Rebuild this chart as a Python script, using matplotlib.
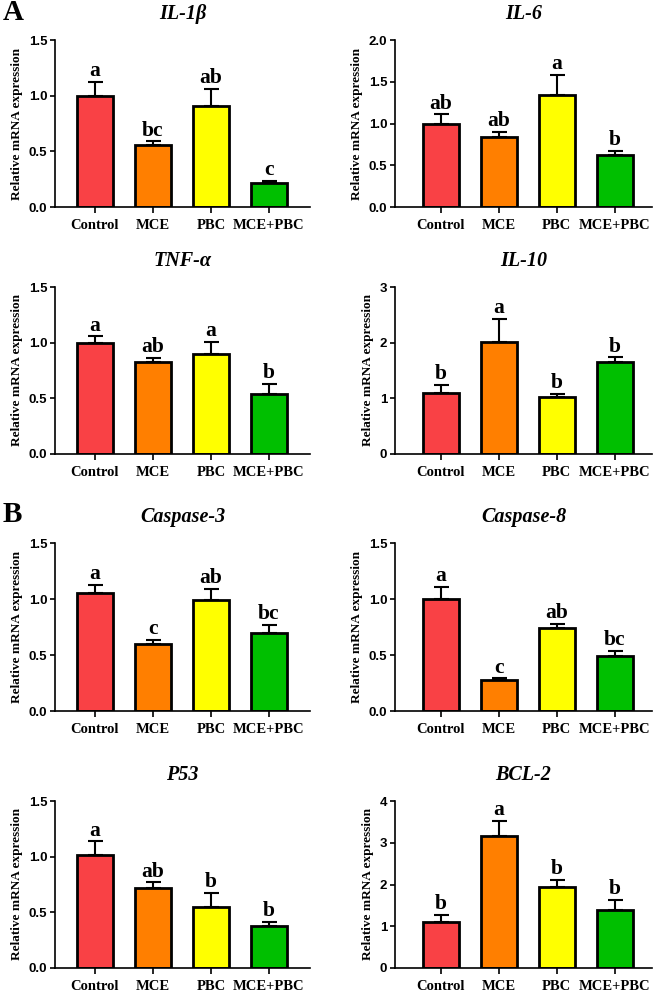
import matplotlib
matplotlib.use("Agg")
import matplotlib.pyplot as plt

groups = ["Control", "MCE", "PBC", "MCE+PBC"]
bar_colors = ["#F94145", "#FF7F00", "#FFFF00", "#00BF00"]

# gene panels: title, mean, sem (upper), letters, ymax, ystep
genes = ["IL-1β", "IL-6", "TNF-α", "IL-10", "Caspase-3", "Caspase-8", "P53", "BCL-2"]

il1b_mean = [1.00, 0.553, 0.908, 0.215]
il1b_sem = [0.126, 0.036, 0.156, 0.021]
il1b_sig = ["a", "bc", "ab", "c"]

il6_mean = [0.996, 0.833, 1.347, 0.625]
il6_sem = [0.114, 0.063, 0.233, 0.048]
il6_sig = ["ab", "ab", "a", "b"]

tnf_mean = [0.996, 0.825, 0.90, 0.537]
tnf_sem = [0.06, 0.036, 0.105, 0.093]
tnf_sig = ["a", "ab", "a", "b"]

il10_mean = [1.092, 2.016, 1.032, 1.656]
il10_sem = [0.15, 0.414, 0.048, 0.078]
il10_sig = ["b", "a", "b", "b"]

casp3_mean = [1.05, 0.60, 0.993, 0.696]
casp3_sem = [0.075, 0.033, 0.096, 0.075]
casp3_sig = ["a", "c", "ab", "bc"]

casp8_mean = [1.0, 0.277, 0.74, 0.495]
casp8_sem = [0.107, 0.015, 0.04, 0.045]
casp8_sig = ["a", "c", "ab", "bc"]

p53_mean = [1.016, 0.723, 0.547, 0.379]
p53_sem = [0.122, 0.045, 0.125, 0.036]
p53_sig = ["a", "ab", "b", "b"]

bcl2_mean = [1.108, 3.163, 1.952, 1.386]
bcl2_sem = [0.159, 0.367, 0.158, 0.247]
bcl2_sig = ["b", "a", "b", "b"]

means = [il1b_mean, il6_mean, tnf_mean, il10_mean, casp3_mean, casp8_mean, p53_mean, bcl2_mean]
sems = [il1b_sem, il6_sem, tnf_sem, il10_sem, casp3_sem, casp8_sem, p53_sem, bcl2_sem]
sigs = [il1b_sig, il6_sig, tnf_sig, il10_sig, casp3_sig, casp8_sig, p53_sig, bcl2_sig]
ymaxs = [1.5, 2.0, 1.5, 3, 1.5, 1.5, 1.5, 4]
ysteps = [0.5, 0.5, 0.5, 1, 0.5, 0.5, 0.5, 1]

W, H = 655, 991
fig = plt.figure(figsize=(W / 100, H / 100), dpi=100)

serif = "Liberation Serif"
sans = "Liberation Sans"

# pixel layout (left, right) per column, (top, bottom) per row
cols = [(55, 310, -0.69, 3.71), (395, 652, -0.79, 3.64)]
rows = [(40, 207), (287, 454), (543, 711), (801, 968)]

for i, gene in enumerate(genes):
    r, c = divmod(i, 2)
    x0, x1, xl, xr = cols[c]
    yt, yb = rows[r]
    ax = fig.add_axes([x0 / W, 1 - yb / H, (x1 - x0) / W, (yb - yt) / H])
    x = list(range(len(groups)))
    ax.bar(x, means[i], width=0.62, color=bar_colors, edgecolor="black",
           linewidth=2.0, zorder=2)
    ax.errorbar(x, means[i], yerr=[[0] * 4, sems[i]], fmt="none", ecolor="black",
                elinewidth=1.5, capsize=5.4, capthick=1.5, zorder=1)
    for xi, m, s, lab in zip(x, means[i], sems[i], sigs[i]):
        ax.annotate(lab, (xi, m + s), xytext=(0, 0.5), textcoords="offset points",
                    ha="center", va="bottom", fontsize=15.5, fontweight="bold",
                    family=serif)
    ax.set_xlim(xl, xr)
    ax.set_ylim(0, ymaxs[i])
    n = int(round(ymaxs[i] / ysteps[i]))
    ticks = [k * ysteps[i] for k in range(n + 1)]
    ax.set_yticks(ticks)
    if ysteps[i] < 1:
        ax.set_yticklabels([f"{t:.1f}" for t in ticks])
    else:
        ax.set_yticklabels([f"{int(t)}" for t in ticks])
    for lbl in ax.get_yticklabels():
        lbl.set_fontfamily(sans)
        lbl.set_fontweight("bold")
        lbl.set_fontsize(9.5)
    ax.set_xticks(x)
    ax.set_xticklabels(groups, fontsize=10.5, fontweight="bold", family=serif)
    ax.tick_params(axis="y", direction="out", length=3.6, width=1.2, pad=2)
    ax.tick_params(axis="x", direction="out", length=4.5, width=1.2, pad=4)
    ax.spines["top"].set_visible(False)
    ax.spines["right"].set_visible(False)
    ax.spines["left"].set_linewidth(1.2)
    ax.spines["bottom"].set_linewidth(1.2)
    ax.set_ylabel("Relative mRNA expression", fontsize=9.5, fontweight="bold",
                  family=serif, labelpad=4)
    ax.set_title(gene, fontsize=14.5, fontweight="bold", style="italic",
                 family=serif, pad=15)

fig.text(13 / W, 1 - 13 / H, "A", fontsize=21, fontweight="bold", family=serif,
         ha="center", va="center")
fig.text(12 / W, 1 - 515 / H, "B", fontsize=21, fontweight="bold", family=serif,
         ha="center", va="center")

fig.savefig("out.png", dpi=100)
